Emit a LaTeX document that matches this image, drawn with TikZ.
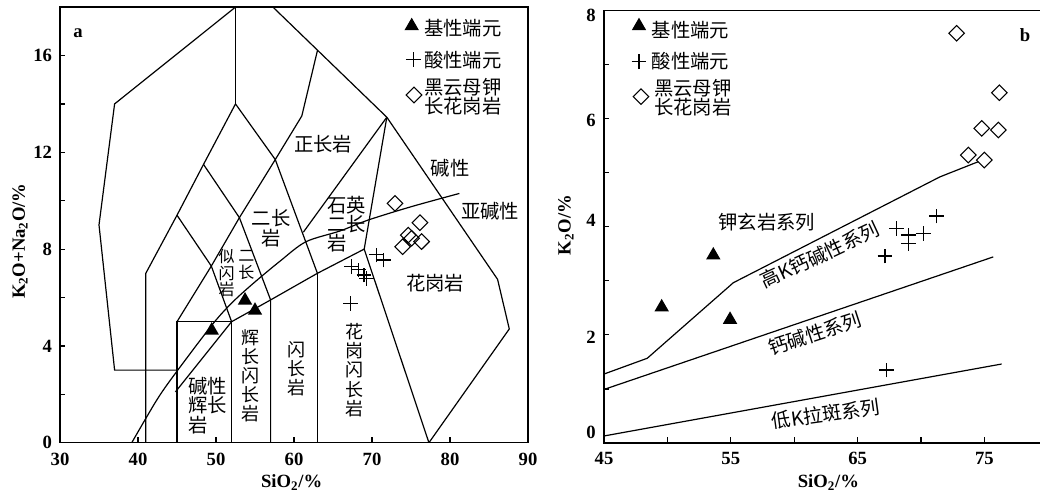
\documentclass[tikz,border=0pt]{standalone}
\usepackage{fontspec}
\setmainfont{Liberation Serif}
\newfontfamily\cjk{Noto Sans CJK SC}
\usetikzlibrary{shapes.geometric,shapes.misc}
\tikzset{
	field/.style={line width=0.9pt},
	frame/.style={line width=1pt},
	tickmark/.style={line width=0.9pt},
	basic/.style={regular polygon,regular polygon sides=3,fill=black,inner sep=0pt,minimum size=12.5pt},
	acid/.style={cross out,draw,rotate=45,inner sep=0pt,minimum size=7pt,line width=0.8pt},
	bgran/.style={diamond,draw,inner sep=0pt,minimum width=12pt,minimum height=12pt,line width=0.8pt},
	num/.style={inner sep=0pt,font=\fontsize{14}{14}\selectfont\bfseries},
	zh/.style={inner sep=0pt,font=\cjk\fontsize{14.5}{15}\selectfont},
	vt/.style={inner sep=0pt,align=center,font=\cjk\fontsize{13.5}{14.4}\selectfont},
	vts/.style={inner sep=0pt,align=center,font=\cjk\fontsize{12}{12.5}\selectfont},
	zhrows/.style={inner sep=0pt,align=left,anchor=west,font=\cjk\fontsize{14.5}{#1}\selectfont},
}

\begin{document}
\begin{tikzpicture}[x=0.75pt,y=0.75pt,yscale=-1,xscale=1]
	\useasboundingbox (0,0) rectangle (1040,494);
	% panel a
	\begin{scope}[shift={(-174,442.7)},xscale=7.8,yscale=-24.2]
	\draw[frame] (30,0) rectangle (90,18);
	\draw[tickmark] (30,2) -- (30.65,2) (30,4) -- (30.65,4) (30,6) -- (30.65,6) (30,8) -- (30.65,8) (30,10) -- (30.65,10) (30,12) -- (30.65,12) (30,14) -- (30.65,14) (30,16) -- (30.65,16);
	\draw[tickmark] (40,0) -- (40,0.25) (50,0) -- (50,0.25) (60,0) -- (60,0.25) (70,0) -- (70,0.25) (80,0) -- (80,0.25);
	\draw[field] (52.5,18) -- (37,14) -- (35,9) -- (37,3) -- (45,3);
	\draw[field] (52.5,18) -- (52.5,14);
	\draw[field] (41,0) -- (41,7) -- (45,9.4) -- (48.4,11.5) -- (52.5,14) -- (57.6,11.7) -- (63,7);
	\draw[field] (45,0) -- (45,5) -- (52,5) -- (52,0);
	\draw[field] (45,5) -- (49.4,7.3) -- (53,9.3) -- (57.6,11.7) -- (61,13.5) -- (63,16.2);
	\draw[field] (45,9.4) -- (49.4,7.3) -- (52,5);
	\draw[field] (48.4,11.5) -- (53,9.3) -- (57,5.9) -- (57,0);
	\draw[field] (63,7) -- (63,0);
	\draw[field] (44.8,2.1) -- (52,5) -- (57,5.9) -- (63,7) -- (69,8) -- (77.3,0);
	\draw[field] (57.3,18) -- (71.9,13.45) -- (86.1,6.75) -- (87.6,4.7) -- (77.3,0);
	\draw[field] (71.9,13.45) -- (69,8);
	\draw[field] (71.9,13.45) -- (61.2,8.7);
	\draw[field] plot[smooth,tension=0.5] coordinates {(39.2,0) (42.4,1.76) (44.8,2.87) (49.65,4.93) (52.2,5.83) (54.8,6.59) (58.2,7.5) (61.5,8.3) (65.9,8.75) (69.5,9.2) (75,9.75) (81.2,10.3)};
	\node[basic] (ta1) at (53.72,5.88) {};
	\node[basic] (ta2) at (55,5.46) {};
	\node[basic] (ta3) at (49.45,4.64) {};
	\node[acid] (ca1) at (70.6,7.76) {};
	\node[acid] (ca2) at (71.45,7.55) {};
	\node[acid] (ca3) at (67.4,7.27) {};
	\node[acid] (ca4) at (68.24,7.14) {};
	\node[acid] (ca5) at (68.97,6.93) {};
	\node[acid] (ca6) at (69.32,6.79) {};
	\node[acid] (ca7) at (67.27,5.76) {};
	\node[bgran] (da1) at (72.95,9.89) {};
	\node[bgran] (da2) at (76.15,9.09) {};
	\node[bgran] (da3) at (74.65,8.58) {};
	\node[bgran] (da4) at (75.08,8.45) {};
	\node[bgran] (da5) at (76.36,8.31) {};
	\node[bgran] (da6) at (73.93,8.10) {};
	\node[num,anchor=east] (ya0) at (29,0) {0};
	\node[num,anchor=east] (ya4) at (29,4) {4};
	\node[num,anchor=east] (ya8) at (29,8) {8};
	\node[num,anchor=east] (ya12) at (29,12) {12};
	\node[num,anchor=east] (ya16) at (29,16) {16};
	\node[num,anchor=north] (xa30) at (30,-0.4) {30};
	\node[num,anchor=north] (xa40) at (40,-0.4) {40};
	\node[num,anchor=north] (xa50) at (50,-0.4) {50};
	\node[num,anchor=north] (xa60) at (60,-0.4) {60};
	\node[num,anchor=north] (xa70) at (70,-0.4) {70};
	\node[num,anchor=north] (xa80) at (80,-0.4) {80};
	\node[num,anchor=north] (xa90) at (90,-0.4) {90};
	\node[num] (xta) at (59.7,-1.65) {SiO\textsubscript{2}/\%};
	\node[num,rotate=90] (yta) at (24.87,8.33) {K\textsubscript{2}O+Na\textsubscript{2}O/\%};
	\end{scope}
	% panel b
	\begin{scope}[shift={(33.4,443)},xscale=12.68,yscale=-54.1]
	\draw[frame] (45,0) rectangle (80,8);
	\draw[tickmark] (45,1) -- (45.4,1) (45,2) -- (45.4,2) (45,3) -- (45.4,3) (45,4) -- (45.4,4) (45,5) -- (45.4,5) (45,6) -- (45.4,6) (45,7) -- (45.4,7);
	\draw[tickmark] (50,0) -- (50,0.11) (55,0) -- (55,0.11) (60,0) -- (60,0.11) (65,0) -- (65,0.11) (70,0) -- (70,0.11) (75,0) -- (75,0.11);
	\draw[field] (45,1.275) -- (48.41,1.566) -- (55.2,2.963) -- (71.5,4.92) -- (74.52,5.2);
	\draw[field] (45,0.99) -- (75.7,3.44);
	\draw[field] (45,0.13) -- (76.36,1.46);
	\node[basic] (tb1) at (53.62,3.47) {};
	\node[basic] (tb2) at (49.55,2.51) {};
	\node[basic] (tb3) at (54.94,2.28) {};
	\node[acid] (cb1) at (71.24,4.196) {};
	\node[acid] (cb2) at (68.08,3.969) {};
	\node[acid] (cb3) at (69,3.845) {};
	\node[acid] (cb4) at (69,3.69) {};
	\node[acid] (cb5) at (70.18,3.876) {};
	\node[acid] (cb6) at (67.16,3.457) {};
	\node[acid] (cb7) at (67.29,1.349) {};
	\node[bgran] (db1) at (72.81,7.573) {};
	\node[bgran] (db2) at (76.18,6.475) {};
	\node[bgran] (db3) at (74.79,5.817) {};
	\node[bgran] (db4) at (76.1,5.786) {};
	\node[bgran] (db5) at (73.73,5.323) {};
	\node[bgran] (db6) at (74.99,5.231) {};
	\node[num,anchor=east] (yb0) at (44.37,0.19) {0};
	\node[num,anchor=east] (yb2) at (44.37,1.96) {2};
	\node[num,anchor=east] (yb4) at (44.37,4.12) {4};
	\node[num,anchor=east] (yb6) at (44.37,5.96) {6};
	\node[num,anchor=east] (yb8) at (44.37,7.91) {8};
	\node[num,anchor=north] (xb45) at (45,-0.17) {45};
	\node[num,anchor=north] (xb55) at (55,-0.17) {55};
	\node[num,anchor=north] (xb65) at (65,-0.17) {65};
	\node[num,anchor=north] (xb75) at (75,-0.17) {75};
	\node[num] (xtb) at (62.7,-0.73) {SiO\textsubscript{2}/\%};
	\node[num,rotate=90] (ytb) at (42,4.03) {K\textsubscript{2}O/\%};
	\end{scope}
	% labels a
	\node[num] (pa) at (78,33) {a};
	\node[basic] (lta) at (411.7,26) {};
	\node[zh,anchor=west] (ltta) at (424,28) {基性端元};
	\node[acid] (lca) at (413.3,59.3) {};
	\node[zh,anchor=west] (lcta) at (424,60) {酸性端元};
	\node[bgran] (lda) at (414,95) {};
	\node[zhrows=14.4pt] (ldta) at (424,97) {黑云母钾\\长花岗岩};
	\node[zh] (syen) at (323.3,144) {正长岩};
	\node[zh] (alk) at (450,168.3) {碱性};
	\node[zh] (subalk) at (490,210.7) {亚碱性};
	\node[zhrows=13.1pt] (qmonz) at (327,224.5) {石英\\二长\\岩};
	\node[zh,align=center,font=\cjk\fontsize{14.5}{15}\selectfont] (monz) at (271,228.3) {二长\\岩};
	\node[vts] (foid) at (226.7,273.3) {似\\闪\\岩};
	\node[vts] (monzb) at (246.3,265) {二\\长};
	\node[vt] (gabdio) at (250,375.8) {辉\\长\\闪\\长\\岩};
	\node[zhrows=14.6pt] (agab) at (188,405.5) {碱性\\辉长\\岩};
	\node[vt] (dio) at (296,368.9) {闪\\长\\岩};
	\node[vt] (grdio) at (354,370) {花\\岗\\闪\\长\\岩};
	\node[zh] (gran) at (435,283.3) {花岗岩};
	% labels b
	\node[num] (pb) at (1025,35) {b};
	\node[basic] (ltb) at (639,26) {};
	\node[zh,anchor=west] (lttb) at (651.7,30) {基性端元};
	\node[acid] (lcb) at (639,61.7) {};
	\node[zh,anchor=west] (lctb) at (651.7,61) {酸性端元};
	\node[bgran] (ldb) at (641,96.7) {};
	\node[zhrows=14.4pt] (ldtb) at (654,97.5) {黑云母钾\\长花岗岩};
	\node[zh] (shos) at (766.7,221.7) {钾玄岩系列};
	\node[zh,rotate=25] (hkca) at (820,255) {高K钙碱性系列};
	\node[zh,rotate=18] (cals) at (815,334) {钙碱性系列};
	\node[zh,rotate=8] (lkth) at (826,414) {低K拉斑系列};
\end{tikzpicture}
\end{document}
